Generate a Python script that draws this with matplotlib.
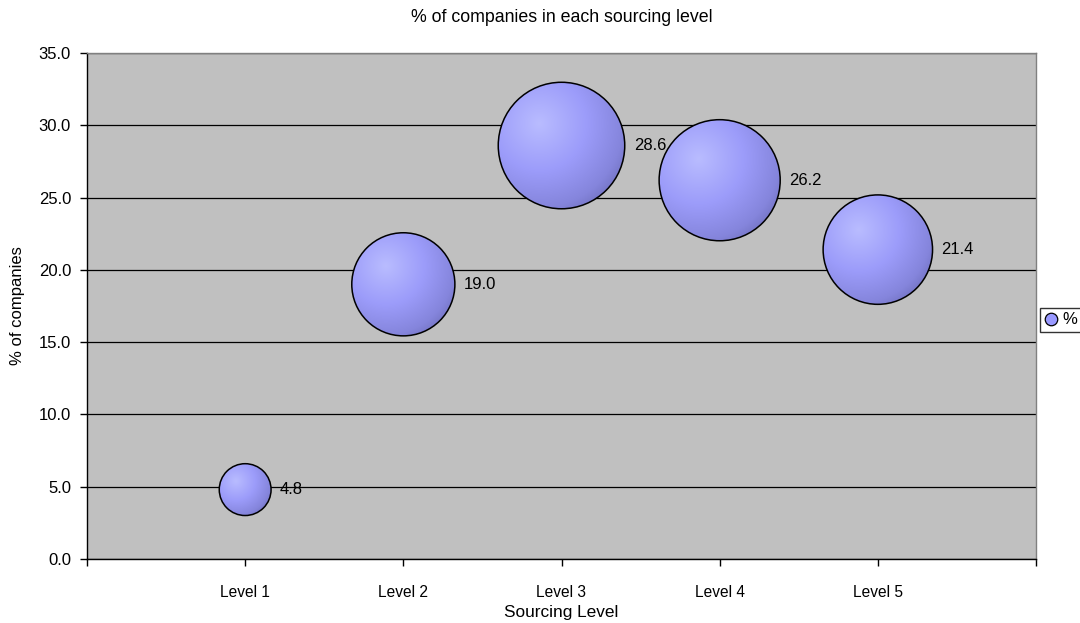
import numpy as np
import matplotlib
matplotlib.use("Agg")
import matplotlib.pyplot as plt
from matplotlib.patches import Ellipse
from matplotlib.colors import LinearSegmentedColormap
from matplotlib.lines import Line2D

plt.rcParams["font.family"] = ["Liberation Sans", "DejaVu Sans"]

# Data
levels = ["Level 1", "Level 2", "Level 3", "Level 4", "Level 5"]
percent = [4.8, 19.0, 28.6, 26.2, 21.4]
yticks = [0, 5, 10, 15, 20, 25, 30, 35]

W, H, DPI = 1080, 623, 100
fig = plt.figure(figsize=(W / DPI, H / DPI), dpi=DPI)
fig.patch.set_facecolor("white")

L, R, T, B = 87, 1036, 53, 559
ax = fig.add_axes([L / W, 1 - B / H, (R - L) / W, (B - T) / H])
ax.set_facecolor("#C0C0C0")

xpos = np.arange(1, len(levels) + 1)
ax.set_xlim(0, len(levels) + 1)
ax.set_ylim(0, 35)

# Axis styling
ax.set_yticks(yticks)
ax.set_yticklabels([f"{v:.1f}" for v in yticks], fontsize=12)
ax.set_xticks(np.arange(0, len(levels) + 2))
ax.set_xticklabels([""] + levels + [""], fontsize=11.2)
ax.tick_params(axis="both", direction="out", length=5, width=1, color="black")
ax.tick_params(axis="y", pad=6.5)
ax.tick_params(axis="x", pad=14)
for s in ["left", "bottom"]:
    ax.spines[s].set_color("black")
    ax.spines[s].set_linewidth(1)
for s in ["top", "right"]:
    ax.spines[s].set_color("#808080")
    ax.spines[s].set_linewidth(1)
ax.grid(axis="y", color="black", linewidth=0.9)
ax.set_axisbelow(True)

fig.text((L + R) / 2 / W, 1 - 613 / H, "Sourcing Level",
         ha="center", va="center", fontsize=12.4)
fig.text(18 / W, 1 - 306 / H, "% of companies", rotation=90,
         ha="center", va="center", fontsize=12)
fig.text((L + R) / 2 / W, 1 - 17 / H, "% of companies in each sourcing level",
         ha="center", va="center", fontsize=12.8)

# Bubble size: largest bubble spans a quarter of the plot height, area ~ value
p0 = ax.transData.transform((0, 0))
p1 = ax.transData.transform((1, 1))
sx, sy = p1[0] - p0[0], p1[1] - p0[1]
plot_h = (B - T)
rmax = 0.125 * plot_h
vmax = max(percent)

cmap = LinearSegmentedColormap.from_list(
    "sphere", [(0.0, "#B9BCFF"), (0.45, "#9C9CFA"), (0.8, "#8585DC"), (1.0, "#6B6BB8")])

n = 300
gx, gy = np.meshgrid(np.linspace(-1, 1, n), np.linspace(1, -1, n))
hx, hy = -0.35, 0.35
d = np.hypot(gx - hx, gy - hy)
d = d / np.hypot(1 + abs(hx), 1 + abs(hy)) * 1.15
grad = np.clip(d, 0, 1)

for x, v in zip(xpos, percent):
    r_px = rmax * np.sqrt(v / vmax)
    rx, ry = r_px / sx, r_px / sy
    im = ax.imshow(grad, cmap=cmap, vmin=0, vmax=1, extent=[x - rx, x + rx, v - ry, v + ry],
                   aspect="auto", interpolation="bilinear", zorder=3)
    clip = Ellipse((x, v), 2 * rx, 2 * ry, transform=ax.transData, facecolor="none")
    ax.add_patch(clip)
    clip.set_visible(False)
    im.set_clip_path(clip)
    ax.add_patch(Ellipse((x, v), 2 * rx, 2 * ry, facecolor="none", edgecolor="black",
                         linewidth=1.1, zorder=4))
    ax.annotate(f"{v:.1f}", (x, v), xytext=((r_px + 9) * 72 / DPI, 0),
                textcoords="offset points", ha="left", va="center", fontsize=12, zorder=5)

ax.set_xlim(0, len(levels) + 1)
ax.set_ylim(0, 35)

handle = Line2D([], [], linestyle="none", marker="o", markersize=9,
                markerfacecolor="#9999FF", markeredgecolor="black", markeredgewidth=0.9)
leg = fig.legend([handle], ["%"], loc="center left",
                 bbox_to_anchor=(1040 / W, 1 - 320 / H), fontsize=12,
                 frameon=True, fancybox=False, handlelength=0.8, handletextpad=0.3,
                 borderpad=0.25, borderaxespad=0)
leg.get_frame().set_edgecolor("black")
leg.get_frame().set_linewidth(1)

fig.savefig("out.png", dpi=DPI)
